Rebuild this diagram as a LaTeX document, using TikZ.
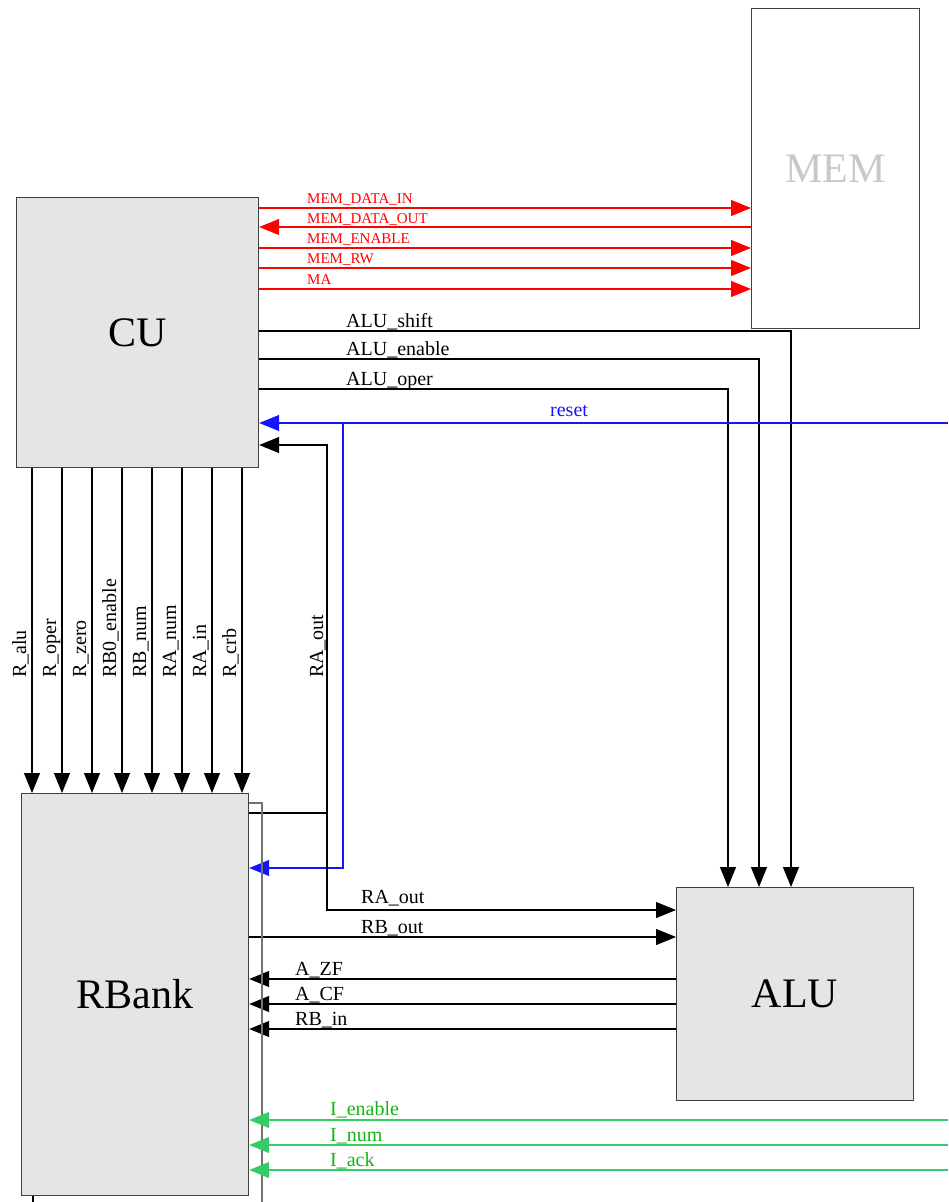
\documentclass[tikz,border=0pt]{standalone}
\usepackage{fontspec}
\setmainfont{Liberation Serif}
\usetikzlibrary{arrows.meta}
\definecolor{boxfill}{RGB}{229,229,229}
\definecolor{memred}{RGB}{255,0,0}
\definecolor{resetblue}{RGB}{20,20,255}
\definecolor{iline}{RGB}{51,204,102}
\definecolor{itext}{RGB}{20,180,20}
\definecolor{memtext}{RGB}{200,200,200}
\begin{document}
\begin{tikzpicture}[x=1pt,y=-1pt,
  block/.style={draw=black!75, line width=1.2pt, fill=boxfill, anchor=north west, inner sep=0pt, font=\fontsize{42}{42}\selectfont},
  wire/.style={line width=1.1pt, draw=black},
  tip/.style={-{Triangle[length=20pt,width=16pt]}},
  lbl/.style={anchor=base west, inner sep=0pt, font=\fontsize{20}{20}\selectfont},
  rlbl/.style={anchor=base west, inner sep=0pt, font=\fontsize{15}{15}\selectfont, text=memred},
  vlbl/.style={rotate=90, anchor=base west, inner sep=0pt, font=\fontsize{20}{20}\selectfont},
]
\useasboundingbox (0,0) rectangle (948,1202);

% blocks
\node[block, fill=white, text=memtext, minimum width=168pt, minimum height=320pt] (MEM) at (751,8) {MEM};
\node[block, minimum width=242pt, minimum height=270pt] (CU) at (16,197) {CU};
\node[block, minimum width=227pt, minimum height=402pt] (RB) at (21,793) {RBank};
\node[block, minimum width=237pt, minimum height=213pt] (ALU) at (676,887) {ALU};

% memory bus (red)
\draw[wire, draw=memred, tip] (CU.east |- 0,208) -- (MEM.west |- 0,208);
\draw[wire, draw=memred, tip] (MEM.west |- 0,227) -- (CU.east |- 0,227);
\draw[wire, draw=memred, tip] (CU.east |- 0,248) -- (MEM.west |- 0,248);
\draw[wire, draw=memred, tip] (CU.east |- 0,268) -- (MEM.west |- 0,268);
\draw[wire, draw=memred, tip] (CU.east |- 0,289) -- (MEM.west |- 0,289);
\node[rlbl] (lmdi) at (307,203) {MEM\_DATA\_IN};
\node[rlbl] (lmdo) at (307,223) {MEM\_DATA\_OUT};
\node[rlbl] (lme) at (307,243) {MEM\_ENABLE};
\node[rlbl] (lmrw) at (307,263) {MEM\_RW};
\node[rlbl] (lma) at (307,284) {MA};

% CU -> ALU control
\draw[wire, tip] (CU.east |- 0,331) -| (ALU.north -| 791,0);
\draw[wire, tip] (CU.east |- 0,359) -| (ALU.north -| 759,0);
\draw[wire, tip] (CU.east |- 0,389) -| (ALU.north -| 728,0);
\node[lbl] (lshift) at (346,327) {ALU\_shift};
\node[lbl] (lena) at (346,355) {ALU\_enable};
\node[lbl] (loper) at (346,385) {ALU\_oper};

% reset (blue)
\coordinate (resetin) at (948,423);
\coordinate (rsplit) at (343,423);
\draw[wire, draw=resetblue, tip] (resetin) -- (CU.east |- resetin);
\draw[wire, draw=resetblue, tip] (rsplit) |- (RB.east |- 0,868);
\node[lbl, text=resetblue] (lreset) at (550,416) {reset};

% RA_out
\coordinate (raj) at (327,813);
\draw[wire] (RB.east |- raj) -- (raj);
\draw[wire, tip] (raj) |- (CU.east |- 0,445);
\draw[wire, tip] (raj) |- (ALU.west |- 0,910);
\node[vlbl] (lraout) at (323,678) {RA\_out};
\node[lbl] (lraout2) at (361,903) {RA\_out};

% RBank <-> ALU
\draw[wire, tip] (RB.east |- 0,937) -- (ALU.west |- 0,937);
\node[lbl] (lrbout) at (361,933) {RB\_out};
\draw[wire, tip] (ALU.west |- 0,979) -- (RB.east |- 0,979);
\draw[wire, tip] (ALU.west |- 0,1004) -- (RB.east |- 0,1004);
\draw[wire, tip] (ALU.west |- 0,1029) -- (RB.east |- 0,1029);
\node[lbl] (lzf) at (295,975) {A\_ZF};
\node[lbl] (lcf) at (295,1000) {A\_CF};
\node[lbl] (lrbin) at (295,1025) {RB\_in};

% side bus line
\coordinate (sbot) at (262,1202);
\draw[line width=1.6pt, draw=black!55] (RB.east |- 0,803) -| (sbot);
\coordinate (tbot) at (33,1202);
\draw[line width=1.1pt, draw=black] (RB.south -| tbot) -- (tbot);

% inputs (green)
\coordinate (ien) at (948,1120);
\coordinate (inum) at (948,1145);
\coordinate (iack) at (948,1170);
\draw[wire, draw=iline, tip] (ien) -- (RB.east |- ien);
\draw[wire, draw=iline, tip] (inum) -- (RB.east |- inum);
\draw[wire, draw=iline, tip] (iack) -- (RB.east |- iack);
\node[lbl, text=itext] (lien) at (330,1115) {I\_enable};
\node[lbl, text=itext] (linum) at (330,1141) {I\_num};
\node[lbl, text=itext] (liack) at (330,1166) {I\_ack};

% CU -> RBank control
\foreach \xx/\name [count=\i] in {32/R\_alu, 62/R\_oper, 92/R\_zero, 122/RB0\_enable, 152/RB\_num, 182/RA\_num, 212/RA\_in, 242/R\_crb}{
  \draw[wire, tip] (CU.south -| \xx,0) -- (RB.north -| \xx,0);
  \node[vlbl] (lr\i) at (\xx-6,678) {\name};
}
\end{tikzpicture}
\end{document}
